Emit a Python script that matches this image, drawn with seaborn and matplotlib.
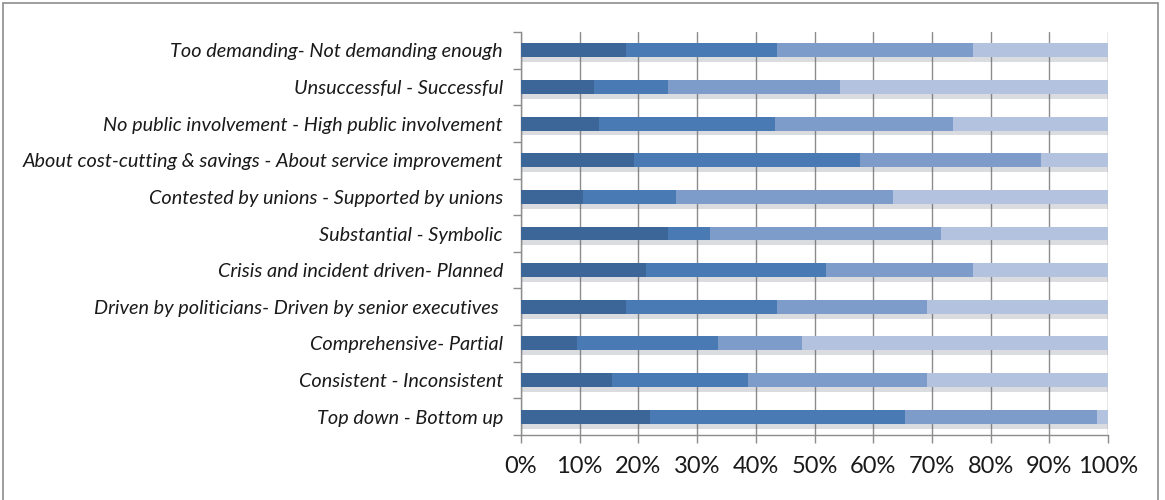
import matplotlib
matplotlib.use("Agg")
import matplotlib.pyplot as plt
import matplotlib.patheffects as pe
from matplotlib.patches import Rectangle
from matplotlib.ticker import FixedLocator, PercentFormatter
import seaborn as sns
import pandas as pd
import numpy as np


# categories, top to bottom
categories = [
    "Too demanding- Not demanding enough",
    "Unsuccessful - Successful",
    "No public involvement - High public involvement",
    "About cost-cutting & savings - About service improvement",
    "Contested by unions - Supported by unions",
    "Substantial - Symbolic",
    "Crisis and incident driven- Planned",
    "Driven by politicians- Driven by senior executives ",
    "Comprehensive- Partial",
    "Consistent - Inconsistent",
    "Top down - Bottom up",
]

# share of answers per scale point (%), left to right
seg1 = [17.9, 12.5, 13.3, 19.3, 10.6, 25.1, 21.3, 17.9, 9.6, 15.5, 22.0]
seg2 = [25.7, 12.6, 30.0, 38.4, 15.8, 7.1, 30.7, 25.7, 23.9, 23.1, 43.5]
seg3 = [33.4, 29.2, 30.3, 30.9, 36.9, 39.4, 25.0, 25.6, 14.3, 30.6, 32.7]
seg4 = [23.0, 45.7, 26.4, 11.4, 36.7, 28.4, 23.0, 30.8, 52.2, 30.8, 1.8]

colors = ["#3c6698", "#4a7ab4", "#7e9cc9", "#b2c2df"]

df = pd.DataFrame({"cat": categories, "s1": seg1, "s2": seg2, "s3": seg3, "s4": seg4})
cum = df[["s1", "s2", "s3", "s4"]].cumsum(axis=1)

sns.set_style("white")
plt.rcParams["font.family"] = ["Lato", "DejaVu Sans"]

fig = plt.figure(figsize=(11.65, 5), dpi=100)
ax = fig.add_axes([521 / 1165, 1 - 435 / 500, (1108 - 521) / 1165, (435 - 32) / 500])

# draw widest first so shorter segments sit on top
for col, c in zip(["s4", "s3", "s2", "s1"], colors[::-1]):
    sns.barplot(x=cum[col], y=df["cat"], color=c, width=0.38, saturation=1,
                orient="h", ax=ax, linewidth=0, zorder=3)

# soft shadow under each full bar only
shadow = [pe.SimplePatchShadow(offset=(1, -3.5), alpha=0.22, rho=0.5), pe.Normal()]
for p in ax.patches[:len(categories)]:
    p.set_path_effects(shadow)

ax.set_xlim(0, 100)
ax.set_ylim(len(categories) - 0.5, -0.5)
ax.xaxis.set_major_locator(FixedLocator(np.arange(0, 101, 10)))
ax.xaxis.set_major_formatter(PercentFormatter(decimals=0))
ax.grid(axis="x", color="#8c8c8c", linewidth=1, zorder=0)
ax.set_axisbelow(True)
ax.set_xlabel("")
ax.set_ylabel("")

for s in ["top", "right"]:
    ax.spines[s].set_visible(False)
for s in ["left", "bottom"]:
    ax.spines[s].set_color("#8c8c8c")
    ax.spines[s].set_linewidth(1)

ax.tick_params(axis="x", length=6, width=1, color="#8c8c8c", pad=9,
               labelsize=17, labelcolor="#1a1a1a", direction="out", bottom=True)
ax.tick_params(axis="y", which="major", length=0, pad=13, labelsize=14.3,
               labelcolor="#1a1a1a")
ax.yaxis.set_minor_locator(FixedLocator(np.arange(-0.5, len(categories), 1)))
ax.tick_params(axis="y", which="minor", length=6, width=1, color="#8c8c8c",
               direction="out", left=True)
for t in ax.get_yticklabels():
    t.set_fontstyle("italic")

# outer chart frame
fig.patches.append(Rectangle((3 / 1165, -0.1), 1155 / 1165, 1.1 - 3 / 500,
                             transform=fig.transFigure, fill=False,
                             edgecolor="#8c8c8c", linewidth=1.2))

fig.savefig("out.png", dpi=100)
